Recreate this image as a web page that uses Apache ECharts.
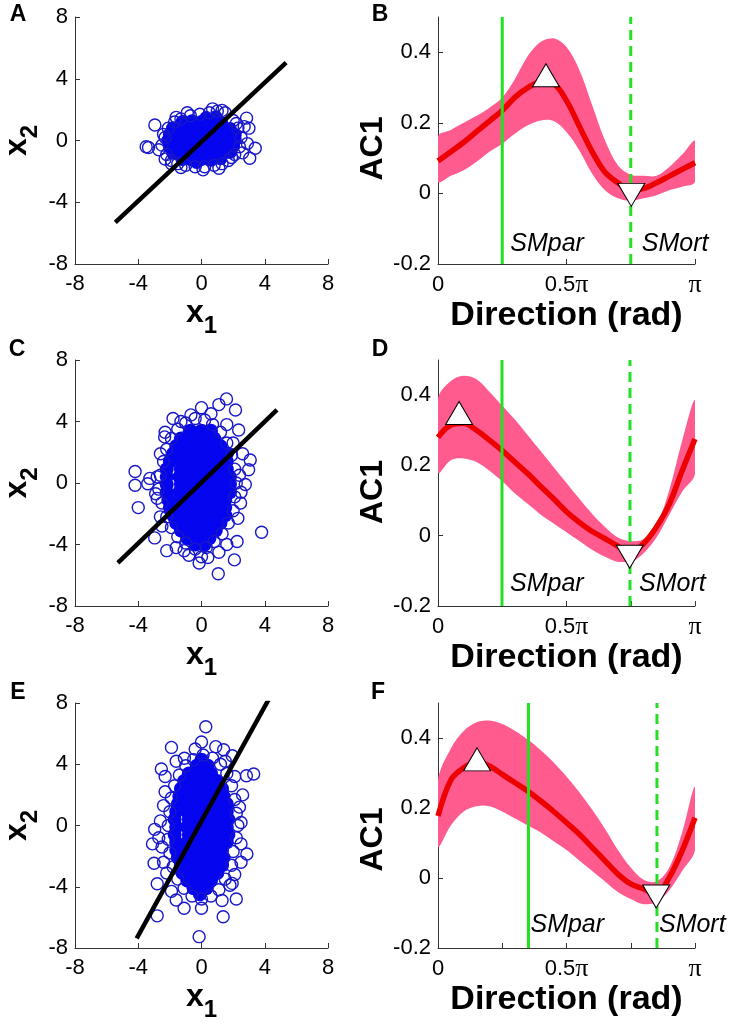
<!DOCTYPE html>
<html><head><meta charset="utf-8">
<script src="https://cdn.jsdelivr.net/npm/echarts@6/dist/echarts.min.js"></script>
<style>html,body{margin:0;padding:0;background:#fff}#c{width:734px;height:1030px}</style>
</head><body><div id="c"></div>
<script>
// ---------------- data ----------------
const scatterTicks = [-8, -4, 0, 4, 8];
const acTicks = [-0.2, 0, 0.2, 0.4];
const dirTicks = [0, 0.25, 0.5, 0.75, 1];
const dirLabelValues = [0, 0.5, 1];
const panelLetters = ['A', 'B', 'C', 'D', 'E', 'F'];

// panel A
const coreA = [[-1.2,1.2],[-0.6,1.25],[0,1.2],[0.6,1.25],[1.2,1.15],
[-1.8,0.8],[-1.2,0.85],[-0.6,0.8],[0,0.8],[0.6,0.85],[1.2,0.8],[1.8,0.75],
[-2.0,0.4],[-1.4,0.4],[-0.8,0.45],[-0.2,0.4],[0.4,0.4],[1.0,0.45],[1.6,0.4],[2.1,0.35],
[-2.1,0],[-1.5,0.05],[-0.9,0],[-0.3,0],[0.3,0.05],[0.9,0],[1.5,0],[2.1,0.05],
[-2.0,-0.4],[-1.4,-0.4],[-0.8,-0.45],[-0.2,-0.4],[0.4,-0.4],[1.0,-0.45],[1.6,-0.4],[2.0,-0.35],
[-1.8,-0.8],[-1.2,-0.85],[-0.6,-0.8],[0,-0.8],[0.6,-0.85],[1.2,-0.8],[1.8,-0.75],
[-1.2,-1.2],[-0.6,-1.25],[0,-1.2],[0.6,-1.25],[1.2,-1.15],[0.3,1.45],[0.9,1.5],[-0.3,-1.4]];
const edgeA = [[-2.5,-0.3],[-2.4,0.4],[-2.2,-0.9],[-2.1,0.8],[-1.9,-1.3],[-1.7,1.2],[-1.5,-1.5],[-1.3,1.4],[-1.0,-1.6],[-0.7,1.6],[-0.4,-1.7],[-0.1,1.7],[0.2,-1.7],[0.5,1.8],[0.8,-1.6],[1.0,1.9],[1.3,-1.5],[1.5,1.8],[1.7,-1.3],[2.0,1.3],[2.1,-0.9],[2.3,0.8],[2.4,-0.4],[2.5,0.2],[2.7,0.9],[2.6,-0.8],
[-2.95,1.0],[-3.35,-0.45],[-3.5,-0.4],[3.4,-0.5],[3.05,-1.15],[3.0,0.8],[2.85,1.45],[-1.9,-1.5],[2.9,-0.2],[0.7,2.05],[1.3,1.95],[-2.7,-0.6],[-2.3,-1.2],
[-1.6,1.5],[-2.3,0.2],[1.9,-1.1],[2.2,1.1],[0.1,-1.9],[-0.9,1.8],[1.1,-1.8],[-1.3,-1.75]];
const lineA = [[-5.45, -5.3], [5.35, 5.05]];

// panel C
const coreC = [[-0.7,3.4],[0,3.4],[0.6,3.4],
[-1.3,2.9],[-0.6,2.9],[0.1,2.9],[0.8,2.9],
[-1.6,2.4],[-0.9,2.4],[-0.2,2.4],[0.5,2.4],[1.2,2.4],
[-1.8,1.9],[-1.0,1.9],[-0.3,1.9],[0.4,1.9],[1.1,1.9],[1.6,1.9],
[-2.0,1.4],[-1.2,1.4],[-0.5,1.4],[0.2,1.4],[0.9,1.4],[1.6,1.4],
[-2.2,0.9],[-1.3,0.9],[-0.6,0.9],[0.1,0.9],[0.8,0.9],[1.6,0.9],
[-2.2,0.4],[-1.4,0.4],[-0.7,0.4],[0,0.4],[0.7,0.4],[1.4,0.4],[1.8,0.4],
[-2.2,-0.1],[-1.3,-0.1],[-0.6,-0.1],[0.1,-0.1],[0.8,-0.1],[1.5,-0.1],[1.8,-0.1],
[-2.2,-0.6],[-1.4,-0.6],[-0.7,-0.6],[0,-0.6],[0.7,-0.6],[1.4,-0.6],[1.8,-0.6],
[-2.1,-1.1],[-1.3,-1.1],[-0.6,-1.1],[0.1,-1.1],[0.8,-1.1],[1.5,-1.1],
[-2.0,-1.6],[-1.2,-1.6],[-0.5,-1.6],[0.2,-1.6],[0.9,-1.6],[1.5,-1.6],
[-1.8,-2.1],[-1.0,-2.1],[-0.3,-2.1],[0.4,-2.1],[1.1,-2.1],[1.5,-2.1],
[-1.6,-2.6],[-0.8,-2.6],[-0.1,-2.6],[0.6,-2.6],[1.2,-2.6],
[-1.3,-3.1],[-0.5,-3.1],[0.2,-3.1],[0.9,-3.1],
[-0.9,-3.6],[-0.2,-3.6],[0.5,-3.6],
[-0.4,-4.0],[0.2,-4.0]];
const edgeC = [[-2.6,0.5],[-2.7,-0.4],[-2.5,-1.3],[-2.4,1.4],[-2.2,2.2],[-2.2,-2.2],[-1.9,2.9],[-1.9,-2.9],[-1.5,3.5],[-1.5,-3.5],[-1.0,3.9],[-1.0,-3.9],[-0.4,4.2],[-0.4,-4.3],[0.2,4.1],[0.3,-4.2],[0.7,3.8],[0.8,-3.8],[1.2,3.3],[1.3,-3.3],[1.6,2.6],[1.7,-2.6],[1.9,1.8],[2.0,-1.8],[2.1,0.9],[2.2,0],[2.1,-0.9],
[-4.2,0.75],[-4.2,-0.15],[-4.0,-1.6],[-3.4,-0.05],[3.8,-3.2],[1.06,-5.9],[1.58,5.47],[2.08,-5.0],[2.98,0.86],[3.08,1.5],[2.77,-0.1],[2.47,-1.3],[-1.8,4.2],[-0.15,-5.2],[0,-4.8],[0.4,-4.85],[-2.96,-3.57],[-2.6,-2.2],[-3.27,0.3],[-2.8,0.4],[2.15,4.75],[2.35,3.45],[1.1,5.1],[0,4.9],[-0.67,4.43],[-2.33,3.0],[-2.3,3.3],[2.25,-3.8],[1.6,-4.0],[-1.6,-4.2],[-2.2,-4.4],[-1.1,-4.4],
[-2.8,-1.0],[-2.6,1.9],[2.4,0.5],[2.3,-2.3],[2.0,2.6],[-1.3,4.0],[0.6,4.5],[1.6,3.8],[-2.5,-2.8],[-0.8,-4.7],[1.1,-4.5],[2.6,1.9],[-2.9,-0.7],[2.5,-0.6]];
const lineC = [[-5.29, -5.19], [4.77, 4.75]];

// panel E
const coreE = [[0,4.3],
[-0.3,3.9],[0.4,3.9],
[-0.8,3.4],[-0.1,3.4],[0.6,3.4],
[-1.1,2.9],[-0.4,2.9],[0.3,2.9],[1.0,2.9],
[-1.3,2.4],[-0.6,2.4],[0.1,2.4],[0.8,2.4],[1.3,2.4],
[-1.4,1.9],[-0.7,1.9],[0,1.9],[0.7,1.9],[1.4,1.9],
[-1.5,1.4],[-0.8,1.4],[-0.1,1.4],[0.6,1.4],[1.3,1.4],[1.6,1.4],
[-1.6,0.9],[-0.9,0.9],[-0.2,0.9],[0.5,0.9],[1.2,0.9],[1.6,0.9],
[-1.7,0.4],[-0.8,0.4],[-0.1,0.4],[0.6,0.4],[1.3,0.4],[1.7,0.4],
[-1.6,-0.1],[-0.9,-0.1],[-0.2,-0.1],[0.5,-0.1],[1.2,-0.1],[1.6,-0.1],
[-1.7,-0.6],[-0.8,-0.6],[-0.1,-0.6],[0.6,-0.6],[1.3,-0.6],[1.7,-0.6],
[-1.6,-1.1],[-0.9,-1.1],[-0.2,-1.1],[0.5,-1.1],[1.2,-1.1],[1.6,-1.1],
[-1.6,-1.6],[-0.8,-1.6],[-0.1,-1.6],[0.6,-1.6],[1.3,-1.6],
[-1.5,-2.1],[-0.7,-2.1],[0,-2.1],[0.7,-2.1],[1.4,-2.1],
[-1.3,-2.6],[-0.6,-2.6],[0.1,-2.6],[0.8,-2.6],[1.3,-2.6],
[-1.2,-3.1],[-0.4,-3.1],[0.3,-3.1],[1.0,-3.1],
[-0.9,-3.6],[-0.1,-3.6],[0.6,-3.6],
[-0.5,-4.1],[0.3,-4.1],[-0.1,-4.5]];
const edgeE = [[-2.1,0],[-2.1,-0.9],[-2.0,0.9],[-2.0,-1.8],[-1.9,1.8],[-1.8,-2.7],[-1.7,2.6],[-1.5,-3.5],[-1.4,3.3],[-1.1,-4.1],[-1.0,3.9],[-0.6,-4.6],[-0.5,4.3],[0,-4.8],[0.1,4.6],[0.6,-4.6],[0.7,4.4],[1.1,-4.2],[1.2,4.0],[1.5,-3.5],[1.6,3.4],[1.9,-2.6],[1.9,2.6],[2.0,-1.7],[2.1,1.7],[2.2,-0.8],[2.2,0.8],[2.3,0],[-2.6,0.3],[-2.5,-1.4],[-2.4,-2.4],[-2.3,2.2],[2.5,-1.2],[2.4,1.2],[-2.2,-3.1],[-1.6,4.2],[1.8,-3.9],[2.1,-3.2],[1.5,4.2],
[0.27,6.45],[-0.15,-7.26],[-2.8,-5.9],[1.37,-5.96],[2.2,-4.8],[0,-5.4],[-1.1,-5.4],[2.87,-1.86],[3.3,3.36],[2.84,3.25],[-3.1,-1.2],[-3.0,-2.47],[-2.54,3.69],[-1.9,5.1],[-1.08,4.39],[0,5.45],[0.9,5.15],[1.4,4.95],[1.94,4.56],[2.1,3.2],[1.94,-3.78],[-2.8,-3.8],[-1.6,-4.87],[-2.96,-0.25],[2.5,0.2],[-2.3,3.2],
[-2.4,1.3],[2.5,-2.4],[-1.9,-4.3],[1.3,-4.9],[-0.4,5.0],[2.6,2.0],[-2.7,-0.8]];
const lineE = [[-4.1, -7.37], [4.23, 8.2]];

// direction grid (in units of pi)
const dirs = [0,0.05,0.1,0.15,0.2,0.25,0.3,0.35,0.4,0.45,0.5,0.55,0.6,0.65,0.7,0.75,0.8,0.85,0.9,0.95,1];

// panel B
const meanB = [0.092,0.118,0.145,0.175,0.205,0.235,0.273,0.30,0.315,0.31,0.263,0.19,0.118,0.06,0.03,0.008,0.014,0.03,0.049,0.068,0.087];
const upB   = [0.162,0.18,0.2,0.22,0.243,0.272,0.325,0.39,0.43,0.44,0.415,0.35,0.25,0.15,0.08,0.053,0.05,0.05,0.075,0.11,0.149];
const lowB  = [0.033,0.05,0.066,0.09,0.118,0.141,0.17,0.193,0.207,0.205,0.174,0.122,0.056,0.009,-0.014,-0.021,-0.014,-0.005,0.009,0.019,0.033];
const maxB = [0.42, 0.335];
const minB = [0.752, -0.004];
const smB = [0.25, 0.75];   // SMpar, SMort directions

// panel D
const meanD = [0.28,0.315,0.32,0.3,0.272,0.242,0.209,0.176,0.14,0.105,0.068,0.038,0.012,-0.008,-0.03,-0.048,-0.022,0.025,0.09,0.185,0.275];
const upD   = [0.39,0.44,0.455,0.445,0.41,0.37,0.33,0.285,0.24,0.195,0.15,0.105,0.062,0.025,-0.005,-0.015,-0.01,0.03,0.13,0.27,0.385];
const lowD  = [0.18,0.215,0.22,0.21,0.185,0.155,0.12,0.09,0.06,0.035,0.01,-0.015,-0.04,-0.06,-0.075,-0.075,-0.05,-0.005,0.06,0.125,0.176];
const maxD = [0.082, 0.349];
const minD = [0.746, -0.06];
const smD = [0.249, 0.747];

// panel F
const meanF = [0.177,0.28,0.315,0.33,0.32,0.296,0.272,0.248,0.22,0.19,0.158,0.125,0.087,0.049,0.011,-0.017,-0.031,-0.045,0.002,0.078,0.172];
const upF   = [0.28,0.37,0.42,0.445,0.45,0.44,0.42,0.395,0.365,0.33,0.29,0.245,0.195,0.14,0.08,0.03,-0.005,-0.01,0.03,0.13,0.26];
const lowF  = [0.09,0.15,0.19,0.205,0.205,0.19,0.17,0.15,0.13,0.105,0.08,0.05,0.02,-0.01,-0.04,-0.06,-0.075,-0.07,-0.035,0.02,0.08];
const maxF = [0.152, 0.339];
const minF = [0.849, -0.053];
const smF = [0.352, 0.852];

// ---------------- style ----------------
const FF = "'Liberation Sans', Arial, Helvetica, sans-serif";
const CORE_BLUE = '#0505f0';
const RING_BLUE = '#1818c8';
const PINK = '#ff5b8e';
const RED = '#ec0000';
const GREEN = '#22e022';
const AXC = '#333';
const TICK_FS = 22;

const grids = [
  {left: 71, top: 17, width: 257, height: 247},
  {left: 438, top: 17, width: 257, height: 247},
  {left: 71, top: 360, width: 257, height: 246},
  {left: 438, top: 360, width: 257, height: 246},
  {left: 71, top: 703, width: 257, height: 245},
  {left: 438, top: 703, width: 257, height: 245}
];

function axisCommon() {
  return {
    type: 'value',
    axisLine: {show: true, onZero: false, lineStyle: {color: AXC, width: 1}},
    splitLine: {show: false}
  };
}
const subRich = () => ({
  b: {fontSize: 32, fontWeight: 'bold', fontFamily: FF, color: '#000'},
  s: {fontSize: 24, fontWeight: 'bold', fontFamily: FF, color: '#000', padding: [26, 0, 0, 0]}
});

const xAxes = [], yAxes = [], series = [];

function scatterPanel(g, core, edge, line, xGap) {
  xAxes.push(Object.assign(axisCommon(), {
    gridIndex: g, min: -8, max: 8, interval: 4,
    axisLabel: {color: '#000', fontSize: TICK_FS, fontFamily: FF, margin: 9, customValues: scatterTicks},
    axisTick: {show: true, inside: true, length: 5, lineStyle: {color: AXC}, customValues: scatterTicks},
    name: '{b|x}{s|1}', nameLocation: 'middle', nameGap: xGap,
    nameTextStyle: {rich: subRich()}
  }));
  yAxes.push(Object.assign(axisCommon(), {
    gridIndex: g, min: -8, max: 8, interval: 4,
    axisLabel: {color: '#000', fontSize: TICK_FS, fontFamily: FF, margin: 7, customValues: scatterTicks},
    axisTick: {show: true, inside: true, length: 5, lineStyle: {color: AXC}, customValues: scatterTicks},
    name: '{b|x}{s|2}', nameLocation: 'middle', nameGap: 33, nameRotate: 90,
    nameTextStyle: {rich: subRich()}
  }));
  series.push({type: 'scatter', xAxisIndex: g, yAxisIndex: g, data: core, symbol: 'circle',
    symbolSize: 14, itemStyle: {color: CORE_BLUE, opacity: 1}, z: 2, silent: true});
  series.push({type: 'scatter', xAxisIndex: g, yAxisIndex: g, data: edge, symbol: 'circle',
    symbolSize: 12, itemStyle: {color: 'rgba(0,0,0,0)', borderColor: RING_BLUE, borderWidth: 1.4, opacity: 1}, z: 3, silent: true});
  series.push({type: 'line', xAxisIndex: g, yAxisIndex: g, data: line, symbol: 'none',
    lineStyle: {color: '#000', width: 4.5}, z: 4, silent: true});
}

function curvePanel(g, mean, up, low, mx, mn, sm, xGap, nameShift) {
  xAxes.push(Object.assign(axisCommon(), {
    gridIndex: g, min: 0, max: 1, interval: 0.25,
    axisLabel: {color: '#000', fontSize: TICK_FS, fontFamily: FF, margin: 8, lineHeight: 26,
      customValues: dirLabelValues,
      formatter: v => (Math.abs(v) < 1e-9 ? '0' : Math.abs(v - 0.5) < 1e-9 ? '0.5{p|π}' : Math.abs(v - 1) < 1e-9 ? '{p|π}' : ''),
      rich: {p: {fontFamily: "'Liberation Serif', 'Times New Roman', serif", fontSize: 26, lineHeight: 26, color: '#000'}}},
    axisTick: {show: true, inside: true, length: 5, lineStyle: {color: AXC}, customValues: dirTicks},
    name: 'Direction (rad)', nameLocation: 'middle', nameGap: xGap,
    nameTextStyle: {fontSize: 34, fontWeight: 'bold', fontFamily: FF, color: '#000'}
  }));
  yAxes.push(Object.assign(axisCommon(), {
    gridIndex: g, min: -0.2, max: 0.5, interval: 0.1,
    axisLabel: {color: '#000', fontSize: TICK_FS, fontFamily: FF, margin: 7,
      customValues: acTicks,
      formatter: v => (Math.abs(v) < 1e-9 ? '0' : String(Math.round(v * 10) / 10))},
    axisTick: {show: true, inside: true, length: 5, lineStyle: {color: AXC}, customValues: acTicks},
    name: 'AC1', nameLocation: 'middle', nameGap: 41, nameRotate: 90,
    nameTextStyle: {fontSize: 32, fontWeight: 'bold', fontFamily: FF, color: '#000',
      padding: [0, nameShift * 2, 0, 0]}
  }));
  // confidence band: one polygon built through the axis scales
  series.push({type: 'custom', xAxisIndex: g, yAxisIndex: g, coordinateSystem: 'cartesian2d',
    clip: true, z: 1, silent: true,
    data: [[dirs[0], low[0], up[0]]],
    encode: {x: 0, y: [1, 2]},
    renderItem: (params, api) => {
      const pts = [];
      for (let k = 0; k < dirs.length; k++) pts.push(api.coord([dirs[k], up[k]]));
      for (let k = dirs.length - 1; k >= 0; k--) pts.push(api.coord([dirs[k], low[k]]));
      return {type: 'polygon', shape: {points: pts, smooth: 0.35, smoothConstraint: [pts[0], pts[0]]},
        style: {fill: PINK}};
    }});
  series.push({type: 'line', xAxisIndex: g, yAxisIndex: g, data: dirs.map((d, k) => [d, mean[k]]),
    smooth: 0.35, symbol: 'none', lineStyle: {color: RED, width: 5.5}, z: 2, silent: true});
  series.push({type: 'line', xAxisIndex: g, yAxisIndex: g, data: [[sm[0], -0.2], [sm[0], 0.5]],
    symbol: 'none', lineStyle: {color: GREEN, width: 3}, z: 3, silent: true});
  series.push({type: 'line', xAxisIndex: g, yAxisIndex: g, data: [[sm[1], -0.2], [sm[1], 0.5]],
    symbol: 'none', lineStyle: {color: GREEN, width: 3, type: [10, 6]}, z: 3, silent: true});
  series.push({type: 'scatter', xAxisIndex: g, yAxisIndex: g, data: [mx], symbol: 'triangle',
    symbolSize: [27, 23], itemStyle: {color: '#fff', borderColor: '#000', borderWidth: 1, opacity: 1}, z: 5, silent: true});
  series.push({type: 'scatter', xAxisIndex: g, yAxisIndex: g, data: [mn], symbol: 'triangle',
    symbolRotate: 180, symbolSize: [27, 23], itemStyle: {color: '#fff', borderColor: '#000', borderWidth: 1, opacity: 1}, z: 5, silent: true});
}

scatterPanel(0, coreA, edgeA, lineA, 24);
curvePanel(1, meanB, upB, lowB, maxB, minB, smB, 32, 8);
scatterPanel(2, coreC, edgeC, lineC, 24);
curvePanel(3, meanD, upD, lowD, maxD, minD, smD, 31, 9);
scatterPanel(4, coreE, edgeE, lineE, 24);
curvePanel(5, meanF, upF, lowF, maxF, minF, smF, 35, 14);

const chart = echarts.init(document.getElementById('c'), null, {renderer: 'canvas'});
chart.setOption({
  animation: false,
  backgroundColor: '#fff',
  grid: grids,
  xAxis: xAxes,
  yAxis: yAxes,
  series: series
});

// panel letters and SM labels
const letterPos = [[18, 15], [380, 15], [17, 350], [380, 350], [18, 693], [378, 693]];
const graphics = panelLetters.map((t, i) => ({
  type: 'text', x: letterPos[i][0], y: letterPos[i][1], silent: true,
  style: {text: t, font: "bold 23px " + FF, fill: '#000', textAlign: 'center', textVerticalAlign: 'middle'}
}));
const smSets = [[1, smB, 8, 11, 20], [3, smD, 8, 9, 22], [5, smF, 2, 2, 23]];
smSets.forEach(([g, sm, offP, offO, up]) => {
  const p = chart.convertToPixel({xAxisIndex: g, yAxisIndex: g}, [sm[0], -0.2]);
  const o = chart.convertToPixel({xAxisIndex: g, yAxisIndex: g}, [sm[1], -0.2]);
  graphics.push({type: 'text', x: p[0] + offP, y: p[1] - up, silent: true, z: 10,
    style: {text: 'SMpar', font: "italic 25px " + FF, fill: '#000', textAlign: 'left', textVerticalAlign: 'middle'}});
  graphics.push({type: 'text', x: o[0] + offO, y: o[1] - up, silent: true, z: 10,
    style: {text: 'SMort', font: "italic 25px " + FF, fill: '#000', textAlign: 'left', textVerticalAlign: 'middle'}});
});
chart.setOption({graphic: graphics});
</script>
</body></html>
